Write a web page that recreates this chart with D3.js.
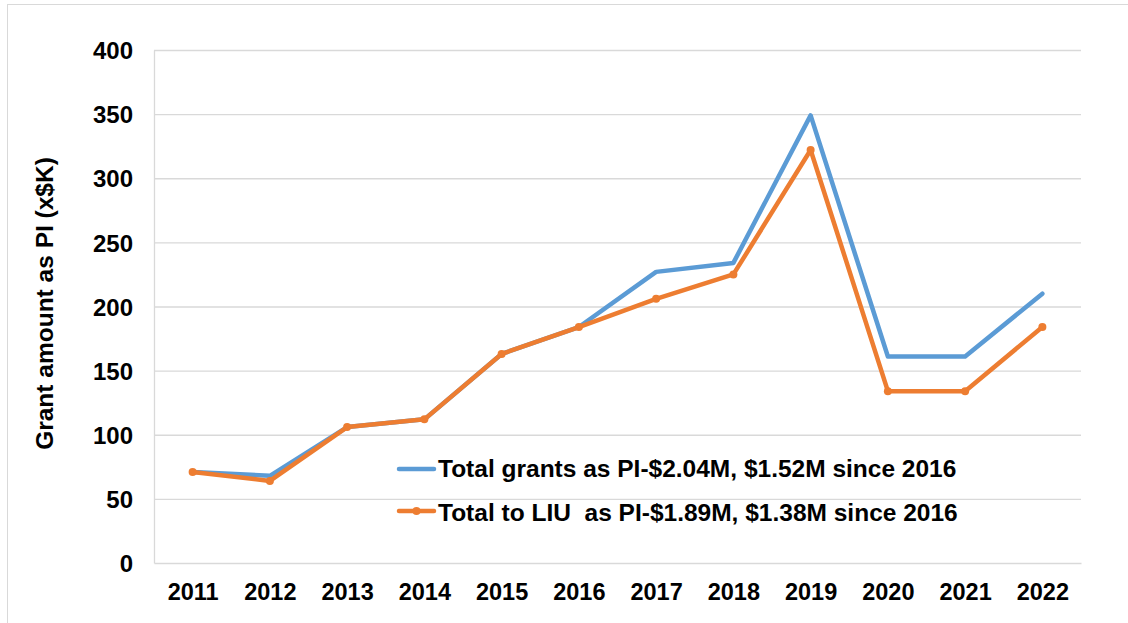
<!DOCTYPE html>
<html><head><meta charset="utf-8">
<script src="https://cdn.jsdelivr.net/npm/d3@7"></script>
<style>body{margin:0;background:#fff}svg{display:block}text{font-family:"Liberation Sans",Arial,sans-serif;font-weight:bold;fill:#000;white-space:pre}</style>
</head><body>
<svg id="c" width="1128" height="623"></svg>
<script>
const years = ["2011","2012","2013","2014","2015","2016","2017","2018","2019","2020","2021","2022"];
const totalGrants = [71, 68, 106, 112, 163, 184, 227, 234, 349, 161, 161, 210];
const totalLIU = [71, 64, 106, 112, 163, 184, 206, 225, 322, 134, 134, 184];
const yTicks = [0, 50, 100, 150, 200, 250, 300, 350, 400];
const seriesNames = ["Total grants as PI-$2.04M, $1.52M since 2016", "Total to LIU  as PI-$1.89M, $1.38M since 2016"];
const colors = ["#5B9BD5", "#ED7D31"];

const svg = d3.select("#c");
const L = 154, R = 1081, T = 50, B = 563;
svg.append("rect").attr("x",7.5).attr("y",4.5).attr("width",1128).attr("height",640).attr("fill","none").attr("stroke","#d9d9d9");

const x = d3.scalePoint().domain(years).range([L, R]).padding(0.5);
const y = d3.scaleLinear().domain([0, 400]).range([B, T]);

// grid
svg.append("g").selectAll("line").data(yTicks.filter(d=>d>0)).join("line")
  .attr("x1",L).attr("x2",R).attr("y1",d=>y(d)+0.5).attr("y2",d=>y(d)+0.5)
  .attr("stroke","#d9d9d9").attr("stroke-width",1.3);

const ya = svg.append("g").attr("transform",`translate(${L},0)`)
  .call(d3.axisLeft(y).tickValues(yTicks).tickSize(0).tickPadding(21));
ya.select(".domain").attr("stroke","#d9d9d9").attr("stroke-width",1.3);
ya.selectAll("text").attr("font-size",24).attr("font-family",null).attr("dy","0.36em");

const xa = svg.append("g").attr("transform",`translate(0,${B})`)
  .call(d3.axisBottom(x).tickSize(0).tickPadding(20));
xa.select(".domain").attr("stroke","#d9d9d9").attr("stroke-width",1.3);
xa.selectAll("text").attr("font-size",23.5).attr("font-family",null);

svg.append("text").attr("transform",`translate(53,${(T+B)/2-3}) rotate(-90)`)
  .attr("text-anchor","middle").attr("font-size",24.5).text("Grant amount as PI (x$K)");

const line = d3.line().x((d,i)=>x(years[i])).y(d=>y(d));
[totalGrants, totalLIU].forEach((s,k)=>{
  svg.append("path").datum(s).attr("d",line).attr("fill","none")
    .attr("stroke",colors[k]).attr("stroke-width",4.5).attr("stroke-linejoin","round").attr("stroke-linecap","round");
});
svg.append("g").selectAll("circle").data(totalLIU).join("circle")
  .attr("cx",(d,i)=>x(years[i])).attr("cy",d=>y(d)).attr("r",4).attr("fill",colors[1]);

// legend
const lg = svg.append("g");
seriesNames.forEach((n,k)=>{
  const yy = 469 + k*42;
  lg.append("line").attr("x1",399).attr("x2",434).attr("y1",yy).attr("y2",yy)
    .attr("stroke",colors[k]).attr("stroke-width",4.5).attr("stroke-linecap","round");
  if(k===1) lg.append("circle").attr("cx",416.5).attr("cy",yy).attr("r",4).attr("fill",colors[k]);
  lg.append("text").attr("x",438).attr("y",yy+8+k*2).attr("font-size",24.5).text(n);
});
</script>
</body></html>
